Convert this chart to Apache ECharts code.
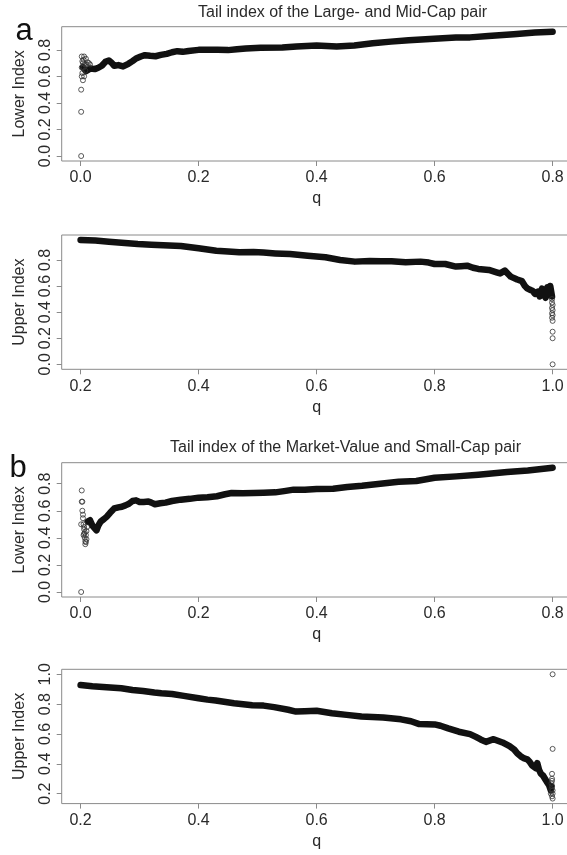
<!DOCTYPE html>
<html>
<head>
<meta charset="utf-8">
<script src="https://cdn.jsdelivr.net/npm/echarts@6/dist/echarts.min.js"></script>
<style>
  html, body { margin: 0; padding: 0; background: #fff; }
  #chart { width: 567px; height: 855px; }
</style>
</head>
<body>
<div id="chart"></div>
<script>
// ---- Panel a: Large- and Mid-Cap pair, lower tail index ----
const lowerA_q = [0.004,0.006,0.009,0.012,0.017,0.024,0.030,0.036,0.042,0.048,0.052,0.057,0.064,0.072,0.081,0.088,0.094,0.102,0.109,0.118,0.127,0.136,0.146,0.155,0.164,0.173,0.183,0.200,0.216,0.232,0.250,0.265,0.280,0.305,0.342,0.366,0.400,0.434,0.464,0.495,0.526,0.556,0.599,0.636,0.660,0.691,0.734,0.770,0.800];
const lowerA_v = [0.670,0.655,0.640,0.650,0.660,0.655,0.665,0.680,0.710,0.720,0.705,0.680,0.685,0.675,0.695,0.715,0.735,0.750,0.760,0.755,0.752,0.762,0.770,0.782,0.790,0.785,0.792,0.800,0.800,0.800,0.798,0.805,0.810,0.815,0.818,0.826,0.833,0.826,0.833,0.850,0.862,0.873,0.884,0.893,0.894,0.905,0.918,0.930,0.937];
const lowerA_outQ = [0.001,0.001,0.001,0.002,0.002,0.002,0.003,0.003,0.004,0.004,0.005,0.005,0.006,0.006,0.007,0.008,0.009,0.010,0.012,0.014,0.016];
const lowerA_outV = [0.000,0.333,0.500,0.600,0.667,0.750,0.714,0.625,0.571,0.700,0.727,0.667,0.600,0.750,0.692,0.643,0.733,0.688,0.706,0.700,0.690];

// ---- Panel a: upper tail index ----
const upperA_q = [0.200,0.225,0.248,0.275,0.297,0.320,0.340,0.370,0.400,0.430,0.450,0.469,0.493,0.510,0.530,0.555,0.585,0.615,0.640,0.665,0.690,0.710,0.727,0.751,0.776,0.790,0.800,0.818,0.836,0.845,0.855,0.865,0.874,0.892,0.905,0.911,0.919,0.925,0.929,0.940,0.948,0.953,0.957,0.962,0.966,0.970,0.975,0.978,0.982,0.985,0.988,0.991,0.994,0.996,0.998,0.999];
const upperA_v = [0.953,0.948,0.940,0.930,0.922,0.917,0.912,0.907,0.889,0.871,0.864,0.858,0.860,0.856,0.850,0.845,0.832,0.820,0.800,0.787,0.792,0.790,0.790,0.782,0.787,0.780,0.769,0.769,0.749,0.752,0.756,0.740,0.731,0.723,0.705,0.697,0.718,0.690,0.672,0.650,0.638,0.600,0.582,0.570,0.564,0.540,0.557,0.520,0.580,0.540,0.510,0.590,0.530,0.600,0.610,0.520];
const upperA_outQ = [0.999,0.999,1.000,0.999,1.000,0.999,1.000,0.999,1.000,1.000,1.000];
const upperA_outV = [0.500,0.474,0.455,0.432,0.415,0.391,0.377,0.357,0.333,0.250,0.200];
const upperA_zeroQ = [1.000];
const upperA_zeroV = [0.000];

// ---- Panel b: Market-Value and Small-Cap pair, lower tail index ----
const lowerB_q = [0.012,0.016,0.020,0.024,0.027,0.030,0.034,0.040,0.044,0.050,0.057,0.064,0.070,0.076,0.082,0.088,0.094,0.100,0.107,0.115,0.120,0.126,0.135,0.144,0.155,0.170,0.185,0.200,0.215,0.231,0.245,0.256,0.275,0.293,0.310,0.330,0.345,0.361,0.380,0.400,0.428,0.452,0.477,0.508,0.539,0.569,0.600,0.637,0.674,0.723,0.758,0.800];
const lowerB_v = [0.520,0.530,0.490,0.470,0.455,0.490,0.520,0.540,0.555,0.585,0.617,0.625,0.630,0.640,0.652,0.672,0.677,0.665,0.665,0.668,0.660,0.648,0.655,0.660,0.672,0.682,0.688,0.697,0.700,0.707,0.722,0.731,0.730,0.731,0.733,0.736,0.745,0.756,0.755,0.760,0.763,0.776,0.785,0.800,0.815,0.820,0.844,0.854,0.866,0.886,0.898,0.918];
const lowerB_outQ = [0.001,0.002,0.002,0.003,0.003,0.004,0.004,0.005,0.001,0.006,0.006,0.007,0.007,0.008,0.008,0.009,0.009,0.010,0.010,0.011,0.006,0.005];
const lowerB_outV = [0.000,0.750,0.667,0.667,0.600,0.571,0.545,0.500,0.500,0.462,0.429,0.400,0.440,0.375,0.353,0.368,0.420,0.450,0.390,0.480,0.480,0.420];

// ---- Panel b: upper tail index ----
const upperB_q = [0.200,0.220,0.244,0.269,0.288,0.306,0.325,0.337,0.355,0.375,0.400,0.415,0.429,0.460,0.491,0.510,0.528,0.552,0.565,0.580,0.600,0.626,0.651,0.676,0.713,0.743,0.760,0.774,0.800,0.810,0.823,0.841,0.860,0.870,0.878,0.887,0.900,0.915,0.927,0.935,0.940,0.946,0.952,0.957,0.961,0.965,0.968,0.972,0.974,0.977,0.980,0.984,0.987,0.990,0.992,0.994,0.997,0.998];
const upperB_v = [0.928,0.920,0.913,0.906,0.895,0.888,0.878,0.873,0.868,0.855,0.839,0.830,0.824,0.806,0.793,0.790,0.780,0.762,0.750,0.752,0.755,0.739,0.728,0.717,0.711,0.698,0.685,0.666,0.664,0.655,0.637,0.615,0.599,0.580,0.563,0.547,0.565,0.543,0.518,0.495,0.470,0.450,0.436,0.430,0.414,0.390,0.380,0.370,0.405,0.360,0.334,0.320,0.300,0.280,0.290,0.256,0.222,0.250];
const upperB_outQ = [1.000,1.000,0.999,0.999,0.999,0.999,1.000,1.000,0.999,1.000,0.998,0.998,0.997];
const upperB_outV = [1.000,0.500,0.333,0.300,0.286,0.250,0.222,0.200,0.182,0.167,0.270,0.230,0.200];

// Tick positions
const ticksLowQ = [0, 0.2, 0.4, 0.6, 0.8];
const ticksHighQ = [0.2, 0.4, 0.6, 0.8, 1.0];
const ticksIndex = [0, 0.2, 0.4, 0.6, 0.8];
const ticksIndexB2 = [0.2, 0.4, 0.6, 0.8, 1.0];

const titles = ['Tail index of the Large- and Mid-Cap pair', 'Tail index of the Market-Value and Small-Cap pair'];
const panelLetters = ['a', 'b'];

const zip = (a, b) => a.map((x, i) => [x, b[i]]);

const FONT = "'Liberation Sans', Arial, Helvetica, sans-serif";
const TEXT = '#2a2a2a';
const FRAME = '#8a8a8a';

// panel layout: plot-box top, axis ranges (4% padding around the data), ticks, y title
const panels = [
  { top: 26.7,  xmin: -0.032, xmax: 0.832, ymin: -0.0375, ymax: 0.9745, xt: ticksLowQ,  yt: ticksIndex,   name: 'Lower Index' },
  { top: 235,   xmin: 0.168,  xmax: 1.032, ymin: -0.038,  ymax: 0.991,  xt: ticksHighQ, yt: ticksIndex,   name: 'Upper Index' },
  { top: 462.7, xmin: -0.032, xmax: 0.832, ymin: -0.037,  ymax: 0.955,  xt: ticksLowQ,  yt: ticksIndex,   name: 'Lower Index' },
  { top: 669.3, xmin: 0.168,  xmax: 1.032, ymin: 0.1333,  ymax: 1.0333, xt: ticksHighQ, yt: ticksIndexB2, name: 'Upper Index' }
];

const fmt = v => Number(v).toFixed(1);

const grid = panels.map(p => ({
  left: 61.7, top: p.top, width: 509.8, height: 134.3,
  show: true, borderColor: FRAME, borderWidth: 1, backgroundColor: 'transparent',
  containLabel: false, outerBoundsMode: 'none'
}));

const xAxis = panels.map((p, i) => ({
  type: 'value', gridIndex: i, min: p.xmin, max: p.xmax, position: 'bottom',
  name: 'q', nameLocation: 'middle', nameGap: 30,
  nameTextStyle: { fontFamily: FONT, fontSize: 16, color: TEXT },
  axisLine: { show: false, onZero: false },
  axisTick: { show: true, length: 5, customValues: p.xt, lineStyle: { color: FRAME } },
  axisLabel: { customValues: p.xt, formatter: fmt, margin: 9, fontFamily: FONT, fontSize: 16, color: TEXT },
  splitLine: { show: false }
}));

const yAxis = panels.map((p, i) => ({
  type: 'value', gridIndex: i, min: p.ymin, max: p.ymax, position: 'left',
  name: p.name, nameLocation: 'middle', nameGap: 34, nameRotate: 90,
  nameTextStyle: { fontFamily: FONT, fontSize: 16, color: TEXT },
  axisLine: { show: false, onZero: false },
  axisTick: { show: true, length: 5, customValues: p.yt, lineStyle: { color: FRAME } },
  axisLabel: { customValues: p.yt, formatter: fmt, rotate: 90, margin: 8, fontFamily: FONT, fontSize: 16, color: TEXT },
  splitLine: { show: false }
}));

const bandStyle = { color: '#111', width: 6.5, join: 'round', cap: 'round' };
const circleStyle = { color: 'rgba(0,0,0,0)', borderColor: '#333', borderWidth: 1 };

function band(i, q, v) {
  return { type: 'line', xAxisIndex: i, yAxisIndex: i, data: zip(q, v),
           showSymbol: false, symbol: 'none', lineStyle: bandStyle, silent: true, z: 3 };
}
function circles(i, q, v) {
  return { type: 'scatter', xAxisIndex: i, yAxisIndex: i, data: zip(q, v),
           symbol: 'circle', symbolSize: 5, itemStyle: circleStyle, silent: true, z: 4 };
}

const series = [
  band(0, lowerA_q, lowerA_v), circles(0, lowerA_outQ, lowerA_outV),
  band(1, upperA_q, upperA_v), circles(1, upperA_outQ, upperA_outV), circles(1, upperA_zeroQ, upperA_zeroV),
  band(2, lowerB_q, lowerB_v), circles(2, lowerB_outQ, lowerB_outV),
  band(3, upperB_q, upperB_v), circles(3, upperB_outQ, upperB_outV)
];

const graphic = [
  { type: 'text', x: 342.6, y: 13, style: { text: titles[0], fontFamily: FONT, fontSize: 16, fill: TEXT, textAlign: 'center', textVerticalAlign: 'middle' } },
  { type: 'text', x: 345.5, y: 448, style: { text: titles[1], fontFamily: FONT, fontSize: 16, fill: TEXT, textAlign: 'center', textVerticalAlign: 'middle' } },
  { type: 'text', x: 24, y: 31, style: { text: panelLetters[0], fontFamily: FONT, fontSize: 31, fill: '#111', textAlign: 'center', textVerticalAlign: 'middle' } },
  { type: 'text', x: 18, y: 468, style: { text: panelLetters[1], fontFamily: FONT, fontSize: 31, fill: '#111', textAlign: 'center', textVerticalAlign: 'middle' } }
];

const chart = echarts.init(document.getElementById('chart'), null, { renderer: 'canvas' });
chart.setOption({
  animation: false,
  backgroundColor: '#fff',
  grid, xAxis, yAxis, series, graphic
});
</script>
</body>
</html>
